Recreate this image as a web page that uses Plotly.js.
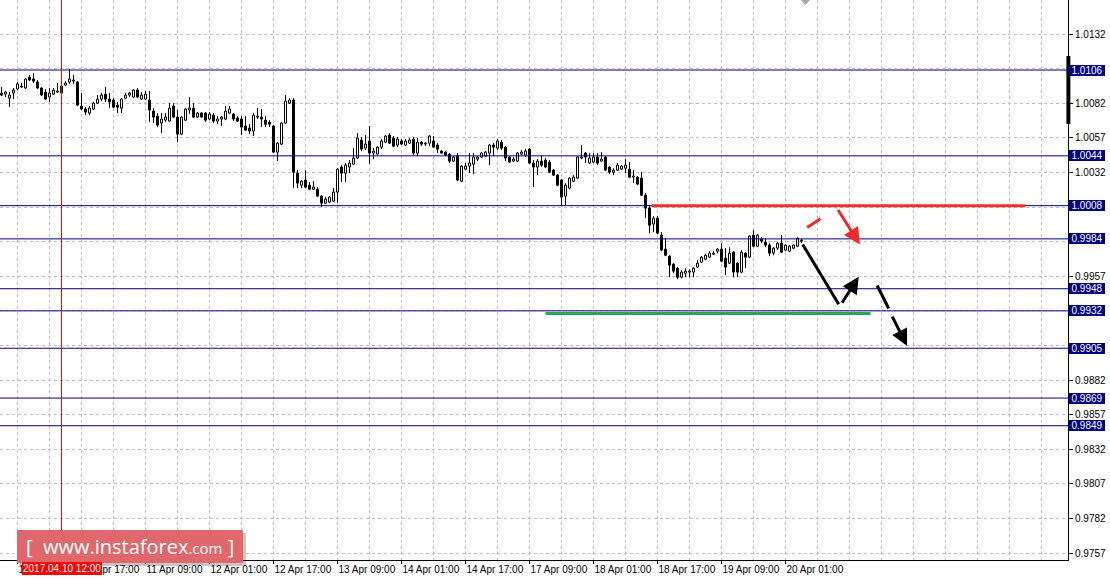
<!DOCTYPE html>
<html>
<head>
<meta charset="utf-8">
<script src="https://cdn.plot.ly/plotly-3.0.1.min.js"></script>
<style>html,body{margin:0;padding:0;background:#fff;}#chart{width:1110px;height:581px;}</style>
</head>
<body>
<div id="chart"></div>
<script>
// ---- candle data (hourly bars, 10 Apr 2017 ... 20 Apr 2017) ----
const open = [1.00894,1.00886,1.00857,1.00894,1.00923,1.00937,1.00930,1.01009,1.00995,1.00973,
1.00930,1.00901,1.00865,1.00886,1.00901,1.00944,1.00951,1.00973,1.00980,1.00973,
1.00800,1.00778,1.00749,1.00778,1.00821,1.00850,1.00886,1.00850,1.00843,1.00807,
1.00785,1.00857,1.00879,1.00865,1.00915,1.00850,1.00850,1.00843,1.00763,1.00727,
1.00677,1.00698,1.00691,1.00800,1.00720,1.00597,1.00698,1.00771,1.00785,1.00720,
1.00749,1.00749,1.00706,1.00734,1.00691,1.00706,1.00706,1.00749,1.00742,1.00713,
1.00706,1.00655,1.00641,1.00619,1.00720,1.00720,1.00698,1.00684,1.00655,1.00467,
1.00525,1.00677,1.00821,1.00843,1.00315,1.00228,1.00265,1.00228,1.00199,1.00199,
1.00149,1.00098,1.00106,1.00113,1.00178,1.00359,1.00315,1.00359,1.00380,1.00424,
1.00554,1.00496,1.00547,1.00460,1.00453,1.00503,1.00539,1.00590,1.00568,1.00518,
1.00547,1.00518,1.00532,1.00561,1.00460,1.00539,1.00525,1.00532,1.00547,1.00518,
1.00474,1.00467,1.00453,1.00402,1.00438,1.00257,1.00344,1.00366,1.00380,1.00416,
1.00431,1.00438,1.00460,1.00518,1.00496,1.00539,1.00503,1.00431,1.00402,1.00402,
1.00453,1.00445,1.00489,1.00388,1.00359,1.00402,1.00409,1.00395,1.00337,1.00301,
1.00265,1.00149,1.00207,1.00257,1.00279,1.00431,1.00460,1.00388,1.00395,1.00431,
1.00402,1.00431,1.00359,1.00322,1.00337,1.00344,1.00351,1.00344,1.00286,1.00286,
1.00279,1.00156,1.00062,0.99947,0.99990,0.99867,0.99766,0.99715,0.99657,0.99628,
0.99563,0.99592,0.99600,0.99600,0.99636,0.99672,0.99693,0.99708,0.99730,0.99751,
0.99766,0.99701,0.99665,0.99744,0.99665,0.99600,0.99737,0.99708,0.99867,0.99787,
0.99838,0.99816,0.99795,0.99737,0.99773,0.99809,0.99759,0.99751,0.99773,0.99787,0.99831];

const high = [1.00937,1.00908,1.00901,1.00930,1.00973,1.00966,1.01002,1.01024,1.01038,1.00988,
1.00937,1.00923,1.00930,1.00930,1.00966,1.00959,1.00980,1.01067,1.01024,1.00980,
1.00894,1.00792,1.00800,1.00829,1.00879,1.00894,1.00937,1.00894,1.00857,1.00829,
1.00857,1.00894,1.00901,1.00923,1.00930,1.00901,1.00908,1.00908,1.00785,1.00749,
1.00749,1.00749,1.00821,1.00821,1.00771,1.00727,1.00785,1.00865,1.00821,1.00756,
1.00756,1.00756,1.00756,1.00749,1.00727,1.00727,1.00800,1.00800,1.00749,1.00727,
1.00727,1.00727,1.00669,1.00749,1.00785,1.00778,1.00727,1.00698,1.00662,1.00539,
1.00684,1.00879,1.00857,1.00857,1.00337,1.00265,1.00337,1.00250,1.00257,1.00214,
1.00156,1.00142,1.00149,1.00207,1.00351,1.00373,1.00388,1.00409,1.00496,1.00604,
1.00576,1.00590,1.00655,1.00496,1.00510,1.00561,1.00590,1.00604,1.00583,1.00576,
1.00561,1.00561,1.00568,1.00576,1.00568,1.00547,1.00539,1.00590,1.00583,1.00532,
1.00482,1.00474,1.00460,1.00438,1.00460,1.00373,1.00388,1.00460,1.00460,1.00438,
1.00467,1.00474,1.00525,1.00532,1.00561,1.00554,1.00510,1.00438,1.00431,1.00467,
1.00482,1.00489,1.00496,1.00409,1.00416,1.00445,1.00424,1.00409,1.00344,1.00308,
1.00272,1.00243,1.00286,1.00301,1.00438,1.00518,1.00467,1.00460,1.00460,1.00460,
1.00467,1.00438,1.00366,1.00351,1.00388,1.00373,1.00416,1.00395,1.00337,1.00294,
1.00322,1.00171,1.00084,1.00004,1.00004,0.99889,0.99845,0.99722,0.99665,0.99636,
0.99614,0.99628,0.99621,0.99636,0.99686,0.99715,0.99730,0.99751,0.99751,0.99773,
0.99809,0.99773,0.99780,0.99751,0.99672,0.99759,0.99744,0.99867,0.99903,0.99874,
0.99853,0.99845,0.99809,0.99780,0.99816,0.99867,0.99802,0.99795,0.99802,0.99853,0.99838];

const low = [1.00872,1.00865,1.00792,1.00850,1.00915,1.00930,1.00923,1.00980,1.00966,1.00923,
1.00872,1.00843,1.00829,1.00879,1.00894,1.00886,1.00944,1.00959,1.00959,1.00800,
1.00771,1.00734,1.00734,1.00771,1.00814,1.00836,1.00829,1.00785,1.00785,1.00749,
1.00749,1.00850,1.00865,1.00857,1.00857,1.00843,1.00843,1.00684,1.00677,1.00648,
1.00604,1.00684,1.00684,1.00713,1.00539,1.00590,1.00691,1.00742,1.00713,1.00713,
1.00713,1.00684,1.00698,1.00677,1.00669,1.00655,1.00698,1.00742,1.00691,1.00684,
1.00590,1.00619,1.00597,1.00583,1.00706,1.00648,1.00648,1.00648,1.00460,1.00402,
1.00518,1.00669,1.00814,1.00207,1.00207,1.00207,1.00207,1.00192,1.00192,1.00142,
1.00069,1.00091,1.00098,1.00106,1.00098,1.00250,1.00250,1.00315,1.00373,1.00416,
1.00474,1.00482,1.00380,1.00416,1.00445,1.00489,1.00532,1.00525,1.00503,1.00503,
1.00518,1.00510,1.00525,1.00445,1.00438,1.00510,1.00510,1.00510,1.00496,1.00460,
1.00453,1.00438,1.00388,1.00395,1.00257,1.00250,1.00337,1.00315,1.00308,1.00402,
1.00424,1.00431,1.00373,1.00438,1.00482,1.00482,1.00402,1.00388,1.00395,1.00395,
1.00445,1.00431,1.00380,1.00214,1.00301,1.00359,1.00351,1.00315,1.00294,1.00221,
1.00084,1.00084,1.00199,1.00250,1.00272,1.00416,1.00388,1.00380,1.00388,1.00373,
1.00395,1.00330,1.00308,1.00301,1.00330,1.00337,1.00315,1.00279,1.00243,1.00228,
1.00149,0.99990,0.99881,0.99889,0.99874,0.99751,0.99715,0.99563,0.99592,0.99549,
0.99556,0.99563,0.99563,0.99563,0.99628,0.99665,0.99686,0.99701,0.99722,0.99737,
0.99672,0.99578,0.99657,0.99563,0.99563,0.99592,0.99628,0.99701,0.99780,0.99780,
0.99809,0.99780,0.99715,0.99722,0.99759,0.99737,0.99751,0.99744,0.99766,0.99780,0.99809];

const close = [1.00879,1.00901,1.00879,1.00915,1.00959,1.00944,1.00995,1.00988,1.00980,1.00930,
1.00879,1.00850,1.00894,1.00915,1.00908,1.00894,1.00966,1.00995,1.00988,1.00807,
1.00778,1.00756,1.00785,1.00821,1.00850,1.00879,1.00850,1.00829,1.00792,1.00792,
1.00850,1.00879,1.00894,1.00915,1.00865,1.00879,1.00886,1.00771,1.00720,1.00662,
1.00706,1.00720,1.00785,1.00720,1.00597,1.00720,1.00778,1.00785,1.00720,1.00749,
1.00720,1.00698,1.00742,1.00691,1.00706,1.00720,1.00763,1.00778,1.00706,1.00691,
1.00648,1.00626,1.00619,1.00734,1.00727,1.00706,1.00669,1.00669,1.00467,1.00532,
1.00677,1.00836,1.00843,1.00322,1.00243,1.00257,1.00214,1.00199,1.00214,1.00149,
1.00098,1.00127,1.00142,1.00178,1.00344,1.00315,1.00373,1.00388,1.00424,1.00568,
1.00489,1.00525,1.00460,1.00474,1.00503,1.00547,1.00583,1.00532,1.00510,1.00561,
1.00525,1.00547,1.00554,1.00460,1.00539,1.00525,1.00532,1.00583,1.00503,1.00489,
1.00460,1.00445,1.00402,1.00431,1.00265,1.00366,1.00366,1.00388,1.00431,1.00431,
1.00460,1.00467,1.00518,1.00503,1.00547,1.00496,1.00424,1.00395,1.00416,1.00460,
1.00467,1.00474,1.00388,1.00359,1.00402,1.00373,1.00359,1.00322,1.00301,1.00228,
1.00142,1.00228,1.00279,1.00286,1.00431,1.00424,1.00431,1.00424,1.00431,1.00388,
1.00416,1.00337,1.00322,1.00337,1.00373,1.00366,1.00373,1.00286,1.00294,1.00236,
1.00156,1.00062,0.99939,0.99990,0.99881,0.99759,0.99722,0.99650,0.99607,0.99563,
0.99600,0.99607,0.99607,0.99628,0.99665,0.99708,0.99722,0.99737,0.99737,0.99766,
0.99679,0.99636,0.99737,0.99600,0.99600,0.99744,0.99708,0.99860,0.99787,0.99867,
0.99824,0.99795,0.99737,0.99773,0.99809,0.99744,0.99795,0.99787,0.99795,0.99845,0.99824];

// ---- time axis ----
const tickBars = [4,20,36,52,68,84,100,116,132,148,164,180,196];
const tickLabels = ['10 Apr 01:00','10 Apr 17:00','11 Apr 09:00','12 Apr 01:00','12 Apr 17:00',
  '13 Apr 09:00','14 Apr 01:00','14 Apr 17:00','17 Apr 09:00','18 Apr 01:00','18 Apr 17:00',
  '19 Apr 09:00','20 Apr 01:00'];
const crosshairBar = 15;
const crosshairLabel = '2017.04.10 12:00';

// ---- price axis ticks ----
const priceTicks = [0.9757,0.9782,0.9807,0.9832,0.9857,0.9882,0.9907,0.9932,0.9957,0.9982,1.0007,1.0032,1.0057,1.0082,1.0107,1.0132];
const priceTickText = ['0.9757','0.9782','0.9807','0.9832','0.9857','0.9882','','','0.9957','','','1.0032','1.0057','1.0082','','1.0132'];

// ---- horizontal levels ----
const levels = [1.0106, 1.0044, 1.0008, 0.9984, 0.9948, 0.9932, 0.9905, 0.9869, 0.9849];
const resistance = {price: 1.0008, fromBar: 162.5, toBar: 256};
const support = {price: 0.99301, fromBar: 136, toBar: 217.25};

// ---- forecast arrows: [fromBar, fromPrice, toBar, toPrice, colour, head] ----
const forecastSegments = [
  [201.4, 0.99923, 204.75, 0.99985, '#ee2b2b', false],
  [208.9, 1.00060, 214.6, 0.99800, '#ee2b2b', true],
  [200.3, 0.99800, 209.3, 0.99368, '#000000', false],
  [209.9, 0.99368, 214.3, 0.99566, '#000000', true],
  [218.9, 0.99503, 221.8, 0.99337, '#000000', false],
  [222.5, 0.99289, 226.4, 0.99067, '#000000', true]
];

const barIndex = open.map((_, i) => i);
const FONT = 'Liberation Sans, Arial, sans-serif';
const GRID = '#c0c0c0';

// candle bodies as bars, wicks as line segments
const bodyBase = open.map((o, i) => Math.min(o, close[i]));
const bodyHeight = open.map((o, i) => Math.abs(close[i] - o));
const bodyColor = open.map((o, i) => close[i] > o ? '#ffffff' : '#000000');
const wickX = [], wickY = [];
barIndex.forEach(i => {
  const top = Math.max(open[i], close[i]), bot = Math.min(open[i], close[i]);
  wickX.push(i, i, null, i, i, null);
  wickY.push(high[i], top, null, bot, low[i], null);
});

const wicks = {type: 'scatter', mode: 'lines', x: wickX, y: wickY, connectgaps: false,
  line: {color: '#000000', width: 1}, hoverinfo: 'none', showlegend: false};
const bodies = {type: 'bar', x: barIndex, base: bodyBase, y: bodyHeight, width: 0.5,
  marker: {color: bodyColor, line: {color: '#000000', width: 1}}, hoverinfo: 'none', showlegend: false};

const shapes = [];
const annotations = [];

levels.forEach(p => {
  shapes.push({type: 'line', xref: 'paper', yref: 'y', x0: 0, x1: 1, y0: p, y1: p,
    line: {color: '#000080', width: 1}, layer: 'above'});
  annotations.push({xref: 'paper', yref: 'y', x: 1, y: p, xanchor: 'left', yanchor: 'middle',
    xshift: 1, text: p.toFixed(4), showarrow: false, bgcolor: '#000080',
    font: {family: FONT, size: 10, color: '#ffffff'}, width: 36, height: 11, borderpad: 0, borderwidth: 0});
});

shapes.push({type: 'line', xref: 'x', yref: 'y', x0: resistance.fromBar, x1: resistance.toBar,
  y0: resistance.price, y1: resistance.price, line: {color: '#ee3030', width: 3}, layer: 'above'});
shapes.push({type: 'line', xref: 'x', yref: 'y', x0: support.fromBar, x1: support.toBar,
  y0: support.price, y1: support.price, line: {color: '#2ca55a', width: 3}, layer: 'above'});

// crosshair
shapes.push({type: 'line', xref: 'x', yref: 'paper', x0: crosshairBar, x1: crosshairBar, y0: 0, y1: 1,
  line: {color: '#ff0000', width: 1}, layer: 'above'});

// black bar on the price scale
shapes.push({type: 'rect', xref: 'paper', yref: 'y', x0: 0.9985, x1: 1.0022, y0: 1.0067, y1: 1.01161,
  fillcolor: '#000000', line: {width: 0}, layer: 'above'});

// chart-shift marker
shapes.push({type: 'path', xref: 'paper', yref: 'paper',
  path: 'M0.7497,1 L0.7584,1 L0.7541,0.9911 Z', fillcolor: '#a8a8a8', line: {width: 0}, layer: 'above'});

// watermark box + shadow
shapes.push({type: 'rect', xref: 'paper', yref: 'paper', x0: 0.0187, x1: 0.2303, y0: -0.0107, y1: 0.0482,
  fillcolor: 'rgba(0,0,0,0.22)', line: {width: 0}, layer: 'above'});
shapes.push({type: 'rect', xref: 'paper', yref: 'paper', x0: 0.0159, x1: 0.2275, y0: -0.0054, y1: 0.0536,
  fillcolor: '#e0686c', line: {width: 0}, layer: 'above'});

forecastSegments.forEach(s => {
  if (s[5]) {
    annotations.push({xref: 'x', yref: 'y', axref: 'x', ayref: 'y', x: s[2], y: s[3], ax: s[0], ay: s[1],
      text: '', showarrow: true, arrowhead: 2, arrowsize: 1.1, arrowwidth: 3, arrowcolor: s[4], standoff: 0});
  } else {
    shapes.push({type: 'line', xref: 'x', yref: 'y', x0: s[0], y0: s[1], x1: s[2], y1: s[3],
      line: {color: s[4], width: 3}, layer: 'above'});
  }
});

annotations.push({xref: 'x', yref: 'paper', x: crosshairBar, y: 0, xanchor: 'center', yanchor: 'top',
  yshift: -2, text: crosshairLabel, showarrow: false, bgcolor: '#ff0000', borderpad: 1, borderwidth: 0,
  font: {family: FONT, size: 10, color: '#ffffff'}});

annotations.push({xref: 'paper', yref: 'paper', x: 0.1217, y: 0.0241, xanchor: 'center', yanchor: 'middle',
  showarrow: false, text: '[\u00a0\u00a0www.instaforex<span style="font-size:15px">.com</span>\u00a0]',
  font: {family: 'Open Sans, sans-serif', size: 20, color: '#ffffff'}});

const layout = {
  width: 1110, height: 581,
  margin: {l: 0, r: 42, t: 0, b: 21, pad: 0},
  paper_bgcolor: '#ffffff', plot_bgcolor: '#ffffff',
  showlegend: false,
  dragmode: false,
  barmode: 'overlay',
  xaxis: {
    type: 'linear', range: [-0.375, 266.625], automargin: false,
    tickmode: 'array', tickvals: tickBars, ticktext: tickLabels, tickangle: 0,
    ticks: 'outside', ticklen: 3, tickcolor: '#000000', tickwidth: 1,
    ticklabelposition: 'outside right',
    tickfont: {family: FONT, size: 10, color: '#000000'},
    showline: true, linecolor: '#000000', linewidth: 1,
    showgrid: true, gridcolor: GRID, gridwidth: 1, griddash: '3px,3px',
    minor: {tick0: 4, dtick: 8, showgrid: true, gridcolor: GRID, gridwidth: 1, griddash: '3px,3px', ticks: ''},
    zeroline: false, fixedrange: true
  },
  yaxis: {
    side: 'right', range: [0.97520, 1.01566], automargin: false,
    tickmode: 'array', tickvals: priceTicks, ticktext: priceTickText,
    ticks: 'outside', ticklen: 4, tickcolor: '#000000', tickwidth: 1,
    tickfont: {family: FONT, size: 10, color: '#000000'},
    showline: true, linecolor: '#000000', linewidth: 1,
    showgrid: true, gridcolor: GRID, gridwidth: 1, griddash: '3px,3px',
    zeroline: false, fixedrange: true
  },
  shapes: shapes,
  annotations: annotations
};

Plotly.newPlot('chart', [wicks, bodies], layout, {staticPlot: true, displayModeBar: false});
</script>
</body>
</html>
